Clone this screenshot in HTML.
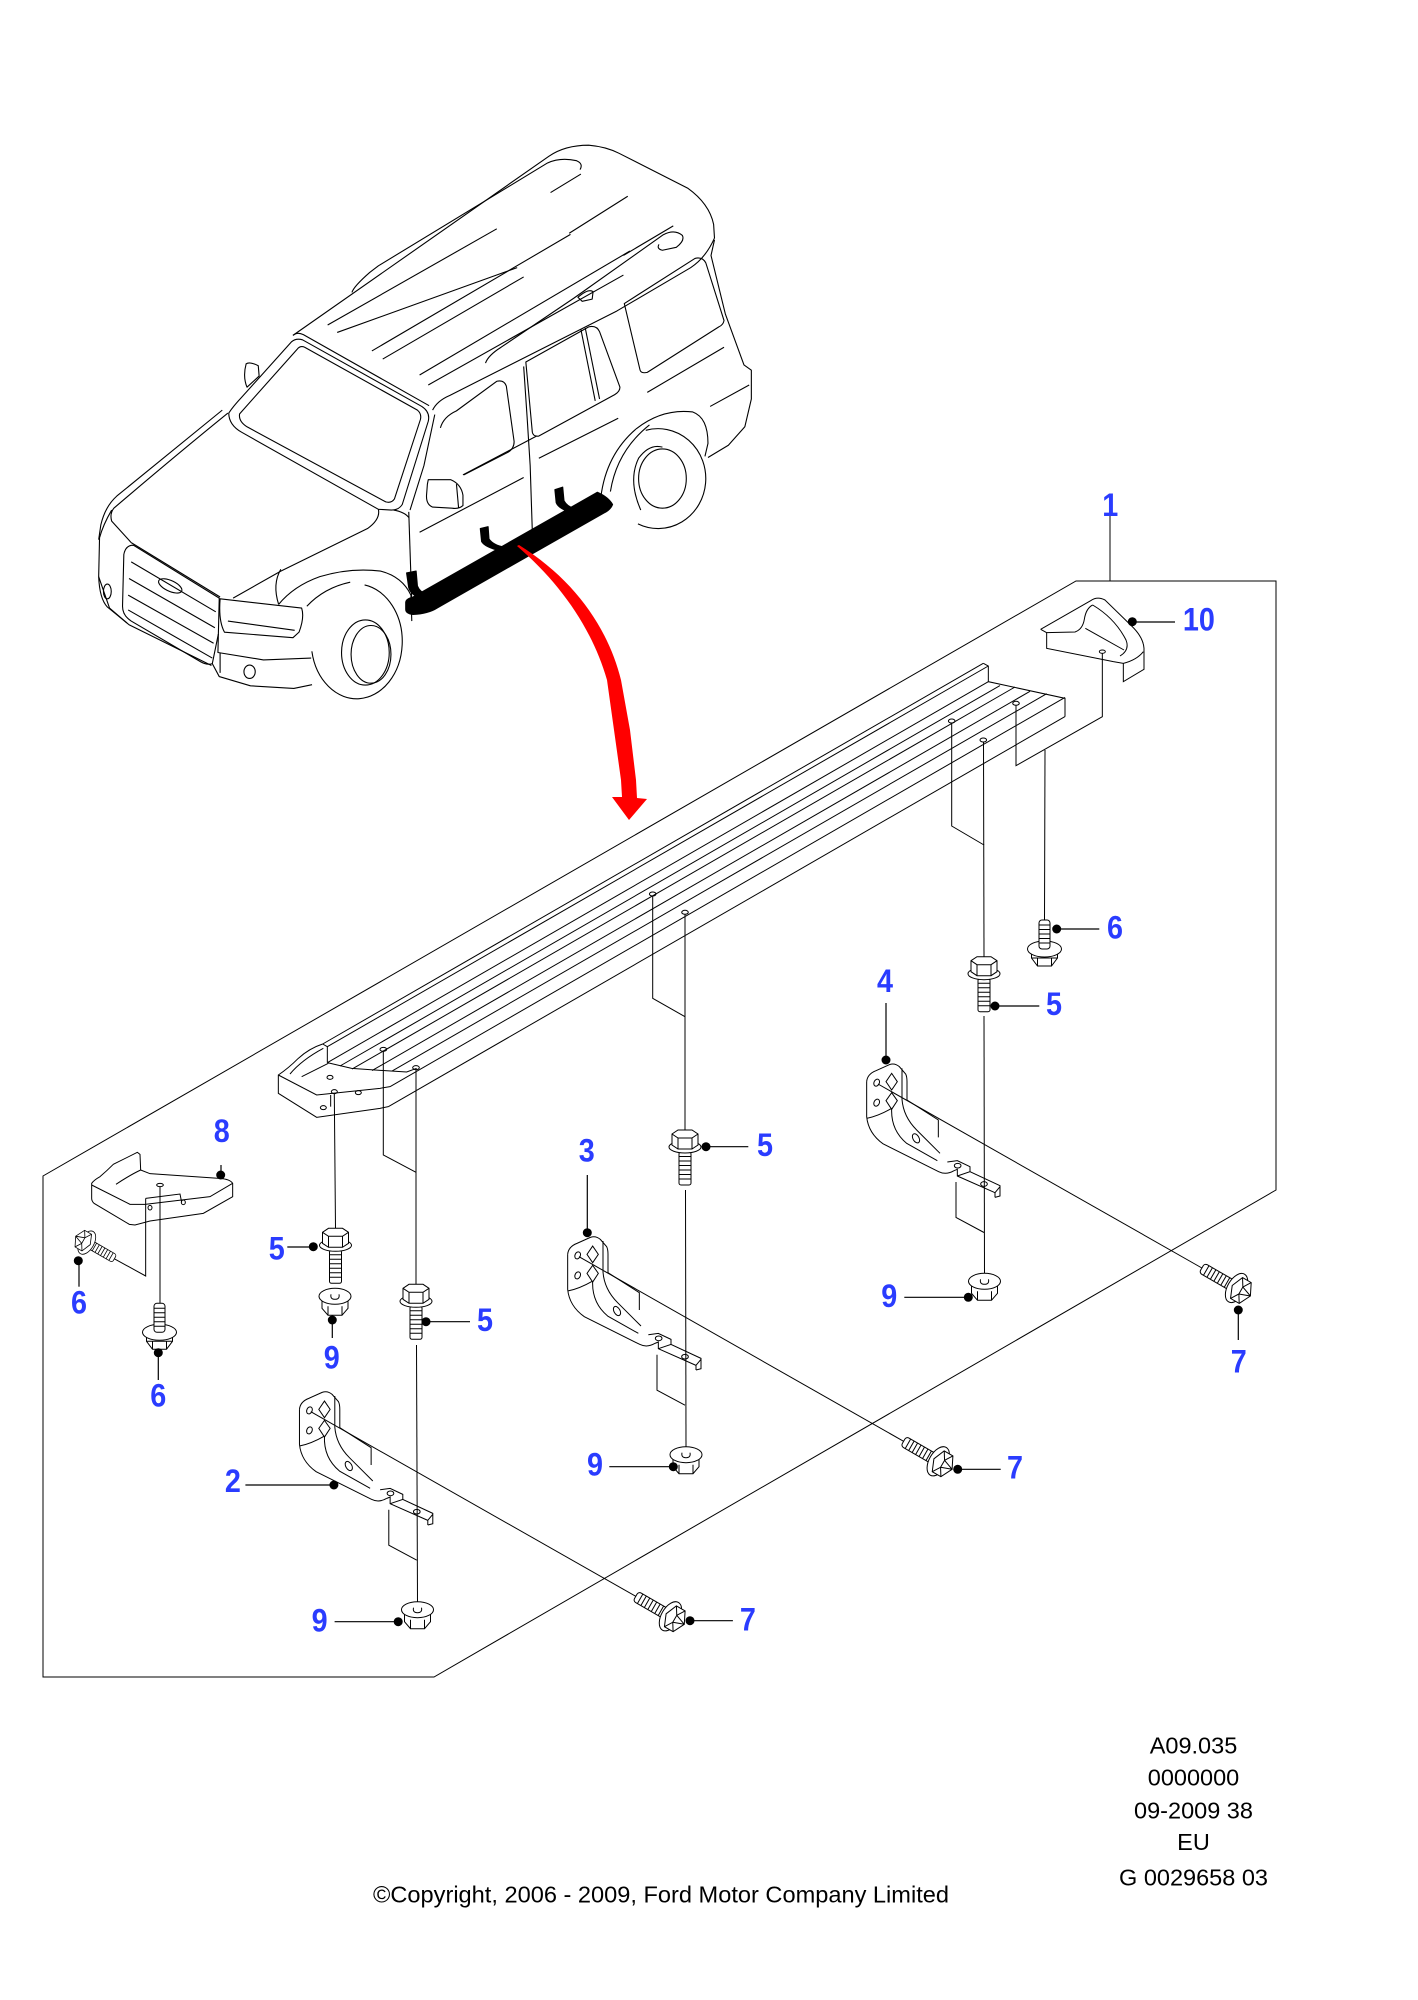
<!DOCTYPE html>
<html><head><meta charset="utf-8">
<style>
html,body{margin:0;padding:0;background:#fff;}
svg{display:block;}
.ns *{vector-effect:non-scaling-stroke;}
.lab{font-family:"Liberation Sans",Arial,sans-serif;font-weight:bold;font-size:32px;fill:#2a3cff;}
.t{font-family:"Liberation Sans",Arial,sans-serif;font-size:23.5px;fill:#000;}
</style></head><body>
<svg width="1418" height="2000" viewBox="0 0 1418 2000" xmlns="http://www.w3.org/2000/svg" xmlns:xlink="http://www.w3.org/1999/xlink">
<rect width="1418" height="2000" fill="#fff"/>
<defs>
 <g id="b5" stroke="#000" stroke-width="1" fill="#fff">
  <rect x="-6" y="22" width="12" height="33" rx="2"/>
  <path d="M-6,26.5H6M-6,31H6M-6,35.5H6M-6,40H6M-6,44.5H6M-6,49H6" fill="none"/>
  <ellipse cx="0" cy="17" rx="16" ry="6"/>
  <path d="M-13,4 L-7,0 L7,0 L13,4 L13,15 L7,19 L-7,19 L-13,15 Z"/>
  <path d="M-13,4 L-7,8 L7,8 L13,4 M-7,8 L-7,19 M7,8 L7,19" fill="none"/>
 </g>
 <g id="b6" stroke="#000" stroke-width="1" fill="#fff">
  <path d="M-13,29 L-13,38 L-7,46 L7,46 L13,38 L13,29 Z"/>
  <path d="M-7,38 L-7,46 M7,38 L7,46 M-13,38 L13,38" fill="none"/>
  <ellipse cx="0" cy="29" rx="17" ry="8"/>
  <rect x="-5.5" y="0" width="11" height="29" rx="3"/>
  <path d="M-5.5,5H5.5M-5.5,9.5H5.5M-5.5,14H5.5M-5.5,18.5H5.5M-5.5,23H5.5" fill="none"/>
 </g>
 <g id="n9" stroke="#000" stroke-width="1" fill="#fff">
  <path d="M-13,8 L-13,20 L-7,27 L7,27 L13,20 L13,8 Z"/>
  <path d="M-7,18 L-7,27 M7,18 L7,27" fill="none"/>
  <ellipse cx="0" cy="8" rx="16" ry="8"/>
  <path d="M-4,6 Q-5,11 0,11 Q5,11 4,6" fill="none"/>
 </g>
 <g id="b7" stroke="#000" stroke-width="1" fill="#fff">
  <rect x="-44" y="-5.5" width="34" height="11" rx="3"/>
  <path d="M-39,-5.5V5.5M-35,-5.5V5.5M-31,-5.5V5.5M-27,-5.5V5.5M-23,-5.5V5.5M-19,-5.5V5.5M-15,-5.5V5.5" fill="none"/>
  <ellipse cx="-4" cy="0" rx="9" ry="16"/>
  <path d="M-4,-12 L6,-12 L12,0 L6,12 L-4,12 L-9,0 Z"/>
  <path d="M-4,-12 L1,-4 L1,4 L-4,12 M1,-4 L12,0 M1,4 L12,0 M1,-4 L6,-12 M1,4 L6,12" fill="none"/>
 </g>
 <g id="br" class="ns" fill="none" stroke="#000" stroke-width="1">
  <path d="M20,545 Q22,522 48,512 L88,494 Q104,488 118,500 L137,522 Q141,530 141,545 L141,600"/>
  <path d="M20,545 L20,650 Q25,700 70,732 L236,815 Q258,826 282,812"/>
  <path d="M20,655 Q55,648 95,625"/>
  <path d="M95,625 Q92,690 140,730 L232,782"/>
  <path d="M126,505 L126,598 Q130,650 170,690 L240,760"/>
  <path d="M141,600 L235,660 L235,712"/>
  <path d="M78,545 L95,520 L112,545 L95,570 Z M78,602 L95,578 L112,602 L95,628 Z"/>
  <ellipse cx="50" cy="548" rx="8" ry="11" transform="rotate(25 50 548)"/>
  <ellipse cx="50" cy="608" rx="8" ry="11" transform="rotate(25 50 608)"/>
  <ellipse cx="168" cy="715" rx="9" ry="15" transform="rotate(-30 168 715)"/>
  <path d="M262,786 L292,782 L330,800 L330,815"/>
  <ellipse cx="293" cy="797" rx="10" ry="7"/>
  <path d="M282,812 L292,808 L292,828 L405,878 L405,892 M292,828 L330,815 L420,857 L420,888 L405,892 M405,878 L420,860"/>
  <ellipse cx="372" cy="852" rx="10" ry="7"/>
 </g>
</defs>

<!-- item 1 outline -->
<g fill="none" stroke="#000" stroke-width="1">
 <path d="M1076,581 L1276,581 L1276,1190 L434,1677 L43,1677 L43,1176 Z"/>
 <path d="M1110,516 L1110,581"/>
</g>

<!-- running board long lines -->
<g fill="none" stroke="#000" stroke-width="1">
 <path d="M322.7,1044 L983.3,663.3"/>
 <path d="M327.3,1046.7 L988.3,666"/>
 <path d="M327.3,1062.7 L988.3,681.7"/>
 <path d="M340,1066 L1000,685.6"/>
 <path d="M352,1069.1 L1015,687"/>
 <path d="M372,1070.6 L1030,691.3"/>
 <path d="M392,1071.1 L1046.7,693.7"/>
 <path d="M390,1086.7 L1065,697.4"/>
 <path d="M388.3,1106.7 L1065,716.6"/>
 <ellipse cx="951.7" cy="721" rx="3.3" ry="2"/>
 <ellipse cx="983.3" cy="740" rx="3.3" ry="2"/>
 <ellipse cx="1016" cy="703.3" rx="3.3" ry="2"/>
 <ellipse cx="652.7" cy="894" rx="3.3" ry="2"/>
 <ellipse cx="685" cy="912.3" rx="3.3" ry="2"/>
 <path d="M951.7,723 L951.7,826 L984,845"/>
 <path d="M983.5,742 L984,957"/>
 <path d="M652.7,896 L652.7,998.3 L685,1016.7"/>
 <path d="M685,914 L685,1130"/>
 <path d="M383.3,1051 L383.3,1155 L416,1172.3"/>
 <path d="M416,1069.5 L416,1284.3"/>
 <path d="M334.3,1093.5 L335.5,1228.3"/>
 <path d="M1045,750 L1044.5,920"/>
 <path d="M984,1016 L984.5,1273.3"/>
 <path d="M685.5,1190 L686,1446.7"/>
 <path d="M416.5,1345 L417.5,1601.7"/>
 <path d="M956,1182 L956,1217.5 L984,1232.5"/>
 <path d="M657,1354.7 L657,1390.2 L685,1405.2"/>
 <path d="M388.8,1509.7 L388.8,1545.2 L416.8,1560.2"/>
 <path d="M878,1084 L1201.9,1268"/>
 <path d="M579,1256.7 L903.6,1441.3"/>
 <path d="M310.8,1411.7 L635.8,1596.3"/>
</g>

<!-- left end cap (zoom5 coords) -->
<g class="ns" transform="translate(270,880) scale(0.33333)" fill="none" stroke="#000" stroke-width="1">
 <path d="M158,492 L172,500 L172,548"/>
 <path d="M158,492 Q118,505 85,535 Q55,565 25,585 L25,640 L140,712 L330,685 L355,680"/>
 <path d="M25,585 L140,645 L330,625 L360,620"/>
 <path d="M172,548 L245,565 L345,572 L410,576 L440,565"/>
 <path d="M60,582 Q95,540 160,505"/>
 <path d="M95,590 L175,550"/>
 <path d="M182,645 L182,680"/>
 <ellipse cx="180" cy="592" rx="9" ry="6"/>
 <ellipse cx="193" cy="635" rx="9" ry="6"/>
 <ellipse cx="265" cy="638" rx="9" ry="6"/>
 <ellipse cx="160" cy="683" rx="9" ry="6"/>
 <ellipse cx="340" cy="508" rx="10" ry="6"/>
 <ellipse cx="438" cy="563" rx="10" ry="6"/>
</g>

<!-- right end + part 10 (zoom4 coords) -->
<g class="ns" transform="translate(940,580) scale(0.33333)" fill="none" stroke="#000" stroke-width="1">
 <path d="M130,250 L145,258 L145,305 L375,355 L375,410"/>
 <path d="M302,148 L452,62 Q472,48 495,60 L575,138 Q610,172 612,205 L612,268 L550,305 L550,250"/>
 <path d="M302,148 L320,158 L320,205 L520,245 L550,250 Q590,240 610,215"/>
 <path d="M320,158 L405,156 Q428,148 433,118 Q438,85 458,75"/>
 <path d="M458,75 Q525,115 558,180 Q570,210 540,228"/>
 <path d="M436,145 L552,210"/>
 <ellipse cx="487" cy="215" rx="9" ry="5"/>
 <path d="M487,220 L487,410 L228,557 L228,375"/>
</g>

<!-- part 8 (zoom7 coords) -->
<g class="ns" transform="translate(50,1115) scale(0.33333)" fill="none" stroke="#000" stroke-width="1">
 <path d="M125,205 Q132,195 150,185 Q170,168 190,148 L262,112 L270,118 L272,165 L300,176 L508,190 Q540,192 548,205 L548,245 L460,295 L300,318 L255,330 L238,328 L132,265 Q125,258 125,250 Z"/>
 <path d="M125,210 L240,268 L285,268 L480,245 L548,205"/>
 <path d="M272,165 Q240,180 198,208"/>
 <path d="M287,250 L287,483 L187,428"/>
 <path d="M287,250 L390,237 L395,262"/>
 <ellipse cx="330" cy="210" rx="10" ry="5"/>
 <ellipse cx="300" cy="278" rx="6" ry="7"/>
 <ellipse cx="400" cy="262" rx="6" ry="7"/>
 <path d="M330,215 L330,565"/>
</g>

<!-- brackets -->
<use xlink:href="#br" href="#br" transform="translate(860,900) scale(0.33333)"/>
<use xlink:href="#br" href="#br" transform="translate(561,1072.7) scale(0.33333)"/>
<use xlink:href="#br" href="#br" transform="translate(292.8,1227.7) scale(0.33333)"/>

<!-- car (zoom3 coords) -->
<g class="ns" transform="translate(90,140) scale(0.43367,0.37004)" fill="none" stroke="#000" stroke-width="1.1" stroke-linejoin="round">
 <path d="M468,528 L1058,44 Q1095,14 1150,14 Q1190,18 1220,36 L1378,130 Q1428,172 1438,228 L1440,265"/>
 <path d="M604,412 Q608,396 645,358 L665,340 L1055,62 Q1085,46 1122,56 Q1138,64 1130,80"/>
 <path d="M1062,142 L1132,92"/>
 <path d="M912,603 Q918,582 948,560 L1115,428 L1322,256 Q1348,240 1366,258 Q1372,272 1352,290 L1320,298 Q1306,294 1312,282"/>
 <path d="M468,528 Q478,518 492,526 L782,718"/>
 <path d="M790,730 Q800,705 830,690 L1215,462 L1385,345 Q1420,318 1440,265"/>
 <path d="M548,500 L938,240"/>
 <path d="M570,520 L985,345"/>
 <path d="M650,570 L1108,255"/>
 <path d="M675,592 L1000,370"/>
 <path d="M760,635 L1245,300"/>
 <path d="M780,662 L1230,365"/>
 <path d="M1105,252 L1240,152"/>
 <path d="M1230,312 L1345,232"/>
 <path d="M1125,425 Q1150,400 1160,410 L1158,430 L1135,436 Z"/>
 <path d="M320,738 Q330,720 350,695 L465,545 Q475,535 490,540 L765,720 Q785,735 780,760 L720,985 Q712,1000 695,1000 L665,998 L350,790 Q320,770 320,738 Z"/>
 <path d="M345,740 L478,565 Q485,555 495,560 L755,730 Q765,740 762,755 L702,970 Q695,982 682,978 L362,775 Q342,760 345,740 Z"/>
 <path d="M360,605 Q368,598 388,610 L390,638 L362,668 Q352,640 360,605 Z"/>
 <path d="M318,738 Q200,850 55,995 Q45,1010 50,1030 L95,1088"/>
 <path d="M305,730 L62,962 Q35,990 25,1040 L20,1080"/>
 <path d="M95,1088 L300,1235"/>
 <path d="M665,998 Q670,1025 640,1050 L440,1165 L330,1238"/>
 <path d="M700,1000 Q725,1005 735,1020"/>
 <path d="M440,1160 Q420,1200 435,1255"/>
 <path d="M100,1095 L298,1238 L296,1335 L282,1415 Q270,1420 255,1410 L95,1300 Q75,1285 75,1260 L78,1120 Q82,1095 100,1095 Z"/>
 <path d="M95,1140 L290,1275 M90,1185 L288,1318 M88,1230 L285,1360 M88,1270 L282,1400"/>
 <ellipse cx="185" cy="1205" rx="30" ry="14" transform="rotate(30 185 1205)"/>
 <path d="M50,1000 Q30,1040 22,1075 L20,1180 Q22,1240 40,1262 L85,1305"/>
 <ellipse cx="40" cy="1220" rx="9" ry="20"/>
 <path d="M300,1240 L488,1265 Q495,1290 482,1330 L468,1345 L310,1330 Q296,1300 300,1240 Z"/>
 <path d="M318,1300 L472,1325"/>
 <path d="M282,1415 L298,1450 L370,1475 L470,1482 L512,1472"/>
 <path d="M296,1335 L295,1385 L400,1405 L510,1400"/>
 <path d="M300,1385 L300,1440"/>
 <ellipse cx="368" cy="1437" rx="13" ry="18"/>
 <path d="M20,1180 L45,1265 L90,1310 L280,1420"/>
 <path d="M511.6,1381.9 A105,155 0 1 0 633.2,1202.4"/>
 <ellipse cx="635" cy="1385" rx="55" ry="88"/>
 <ellipse cx="648" cy="1390" rx="46" ry="78"/>
 <path d="M435,1255 Q470,1205 530,1180 Q600,1155 670,1165 Q720,1180 740,1230 L742,1300"/>
 <path d="M500,1260 Q540,1210 600,1195"/>
 <path d="M1263.5,1037.4 A110,135 0 1 0 1281.5,784.6"/>
 <ellipse cx="1320" cy="915" rx="55" ry="80"/>
 <path d="M1270,1000 Q1240,920 1265,860 Q1290,820 1320,830"/>
 <path d="M1178,965 Q1190,850 1260,780 Q1320,725 1390,735 Q1425,750 1425,820 L1418,855"/>
 <path d="M1200,950 Q1215,840 1290,770"/>
 <path d="M795,742 L770,880 L738,1000"/>
 <path d="M735,1005 L742,1250"/>
 <path d="M808,778 Q815,748 845,732 L938,652 Q955,648 960,665 L978,815 Q978,835 962,845 L862,905"/>
 <path d="M780,918 L832,918 Q856,930 860,960 L860,988 Q850,998 835,995 L790,992 Q775,985 776,960 L778,930 Z"/>
 <path d="M845,930 L850,995"/>
 <path d="M860,905 L1030,800"/>
 <path d="M1000,612 L1008,750 L1015,880 L1020,1060"/>
 <path d="M1005,600 L1150,505 Q1168,500 1175,518 L1222,668 Q1222,680 1210,688 L1035,800 Q1022,802 1020,790 Z"/>
 <path d="M1132,512 L1165,705 M1142,508 L1175,700"/>
 <path d="M1232,442 L1395,320 Q1412,315 1420,332 L1462,488 Q1460,500 1450,505 L1285,628 Q1270,632 1268,620 Z"/>
 <path d="M1440,270 L1432,312 L1465,470 L1508,608 L1525,622 L1525,700 L1510,775 L1472,825 L1425,858"/>
 <path d="M760,1060 L1000,912 M1035,860 L1218,752 M1285,682 L1462,560 M1430,720 L1520,662"/>
 <path d="M742,1250 L760,1245 L1180,965"/>
 <path d="M728,1250 Q728,1240 745,1235 L1170,952 Q1195,965 1205,985 Q1200,1000 1185,1008 L800,1265 Q780,1280 745,1282 Q728,1280 728,1268 Z" fill="#000"/>
 <path d="M730,1170 L752,1165 L755,1205 Q760,1220 775,1228 L765,1240 Q740,1230 735,1210 Z" fill="#000"/>
 <path d="M900,1050 L918,1045 L920,1078 Q930,1095 955,1100 L945,1110 Q910,1100 903,1085 Z" fill="#000"/>
 <path d="M1072,945 L1090,938 L1093,975 Q1100,990 1115,995 L1105,1005 Q1080,995 1075,980 Z" fill="#000"/>
</g>

<!-- red arrow -->
<path d="M517,546 C560,583 592,628 607,680 L614,730 L621,780 L622,797 L612,797 L629,820 L647,799 L637,798 L636,780 L630,730 L621,680 C608,628 575,580 519,545 Z" fill="#ff0000"/>

<!-- hardware -->
<use xlink:href="#b6" href="#b6" transform="translate(1044.5,920)"/>
<use xlink:href="#b5" href="#b5" transform="translate(984,956.7)"/>
<use xlink:href="#b5" href="#b5" transform="translate(685,1130)"/>
<use xlink:href="#b5" href="#b5" transform="translate(416,1284.3)"/>
<use xlink:href="#b5" href="#b5" transform="translate(335.5,1228.3)"/>
<use xlink:href="#b6" href="#b6" transform="translate(159.5,1303.3)"/>
<use xlink:href="#b7" href="#b7" transform="translate(84,1241) rotate(210) scale(0.8)"/>
<use xlink:href="#n9" href="#n9" transform="translate(984.5,1273.3)"/>
<use xlink:href="#n9" href="#n9" transform="translate(686,1446.7)"/>
<use xlink:href="#n9" href="#n9" transform="translate(417.5,1601.7)"/>
<use xlink:href="#n9" href="#n9" transform="translate(335,1288.3)"/>
<use xlink:href="#b7" href="#b7" transform="translate(1240,1290) rotate(30)"/>
<use xlink:href="#b7" href="#b7" transform="translate(941.7,1463.3) rotate(30)"/>
<use xlink:href="#b7" href="#b7" transform="translate(673.9,1618.3) rotate(30)"/>

<!-- leaders & dots -->
<g stroke="#000" stroke-width="1.2" fill="none">
 <path d="M1132,622 L1175,622"/>
 <path d="M1056.7,929 L1099.3,929"/>
 <path d="M995,1006 L1039.3,1006"/>
 <path d="M886,1003 L886,1060"/>
 <path d="M904.3,1297.3 L968.3,1297.3"/>
 <path d="M1238.3,1310 L1238.3,1340"/>
 <path d="M587.3,1175 L587.3,1232.7"/>
 <path d="M706,1146.7 L748.3,1146.7"/>
 <path d="M609.3,1466.7 L673.3,1466.7"/>
 <path d="M957.7,1469.3 L1000.7,1469.3"/>
 <path d="M221,1165 L221,1175"/>
 <path d="M79,1261 L79,1286.7"/>
 <path d="M158.3,1352.7 L158.3,1380"/>
 <path d="M287.3,1247 L313.3,1247"/>
 <path d="M332.3,1320 L332.3,1338"/>
 <path d="M426,1321.7 L470,1321.7"/>
 <path d="M245.4,1485 L333.9,1485"/>
 <path d="M334.6,1621.7 L398.2,1621.7"/>
 <path d="M690,1620.7 L732.9,1620.7"/>
</g>
<g fill="#000">
 <circle cx="1132.3" cy="621.7" r="4.5"/>
 <circle cx="1056.7" cy="929" r="4.5"/>
 <circle cx="995" cy="1006" r="4.5"/>
 <circle cx="886" cy="1060" r="4.5"/>
 <circle cx="968.3" cy="1297.3" r="4.5"/>
 <circle cx="1238.3" cy="1310" r="4.5"/>
 <circle cx="587.3" cy="1232.7" r="4.5"/>
 <circle cx="706" cy="1146.7" r="4.5"/>
 <circle cx="673.3" cy="1466.7" r="4.5"/>
 <circle cx="957.7" cy="1469.3" r="4.5"/>
 <circle cx="220.7" cy="1175" r="4.5"/>
 <circle cx="78.3" cy="1260.7" r="4.5"/>
 <circle cx="158.3" cy="1352.7" r="4.5"/>
 <circle cx="313.3" cy="1246.7" r="4.5"/>
 <circle cx="332.3" cy="1320" r="4.5"/>
 <circle cx="426" cy="1321.7" r="4.5"/>
 <circle cx="333.9" cy="1485" r="4.5"/>
 <circle cx="398.2" cy="1621.7" r="4.5"/>
 <circle cx="690" cy="1620.7" r="4.5"/>
</g>

<!-- labels -->
<g class="lab" text-anchor="middle">
 <text x="1110.3" y="515.8" textLength="16" lengthAdjust="spacingAndGlyphs">1</text>
 <text x="1198.9" y="630.7" textLength="32" lengthAdjust="spacingAndGlyphs">10</text>
 <text x="1115" y="938.7" textLength="16" lengthAdjust="spacingAndGlyphs">6</text>
 <text x="1054" y="1015" textLength="16" lengthAdjust="spacingAndGlyphs">5</text>
 <text x="885" y="992" textLength="16" lengthAdjust="spacingAndGlyphs">4</text>
 <text x="889.3" y="1307" textLength="16" lengthAdjust="spacingAndGlyphs">9</text>
 <text x="1238.7" y="1372.3" textLength="16" lengthAdjust="spacingAndGlyphs">7</text>
 <text x="586.7" y="1161.3" textLength="16" lengthAdjust="spacingAndGlyphs">3</text>
 <text x="765" y="1156" textLength="16" lengthAdjust="spacingAndGlyphs">5</text>
 <text x="595" y="1475.3" textLength="16" lengthAdjust="spacingAndGlyphs">9</text>
 <text x="1015" y="1478.7" textLength="16" lengthAdjust="spacingAndGlyphs">7</text>
 <text x="221.7" y="1142" textLength="16" lengthAdjust="spacingAndGlyphs">8</text>
 <text x="79" y="1313.7" textLength="16" lengthAdjust="spacingAndGlyphs">6</text>
 <text x="158.3" y="1406.3" textLength="16" lengthAdjust="spacingAndGlyphs">6</text>
 <text x="276.7" y="1259.7" textLength="16" lengthAdjust="spacingAndGlyphs">5</text>
 <text x="331.7" y="1368.7" textLength="16" lengthAdjust="spacingAndGlyphs">9</text>
 <text x="485" y="1331" textLength="16" lengthAdjust="spacingAndGlyphs">5</text>
 <text x="232.9" y="1492" textLength="16" lengthAdjust="spacingAndGlyphs">2</text>
 <text x="319.6" y="1631.3" textLength="16" lengthAdjust="spacingAndGlyphs">9</text>
 <text x="747.9" y="1630.3" textLength="16" lengthAdjust="spacingAndGlyphs">7</text>
</g>

<!-- footer text -->
<g class="t" text-anchor="middle">
 <text x="1193.5" y="1753.5">A09.035</text>
 <text x="1193.5" y="1785.5">0000000</text>
 <text x="1193.5" y="1818.5">09-2009 38</text>
 <text x="1193.5" y="1850.2">EU</text>
 <text x="1193.5" y="1885.3">G 0029658 03</text>
</g>
<text class="t" x="373" y="1902.5" textLength="576" lengthAdjust="spacingAndGlyphs">©Copyright, 2006 - 2009, Ford Motor Company Limited</text>
</svg>
</body></html>
